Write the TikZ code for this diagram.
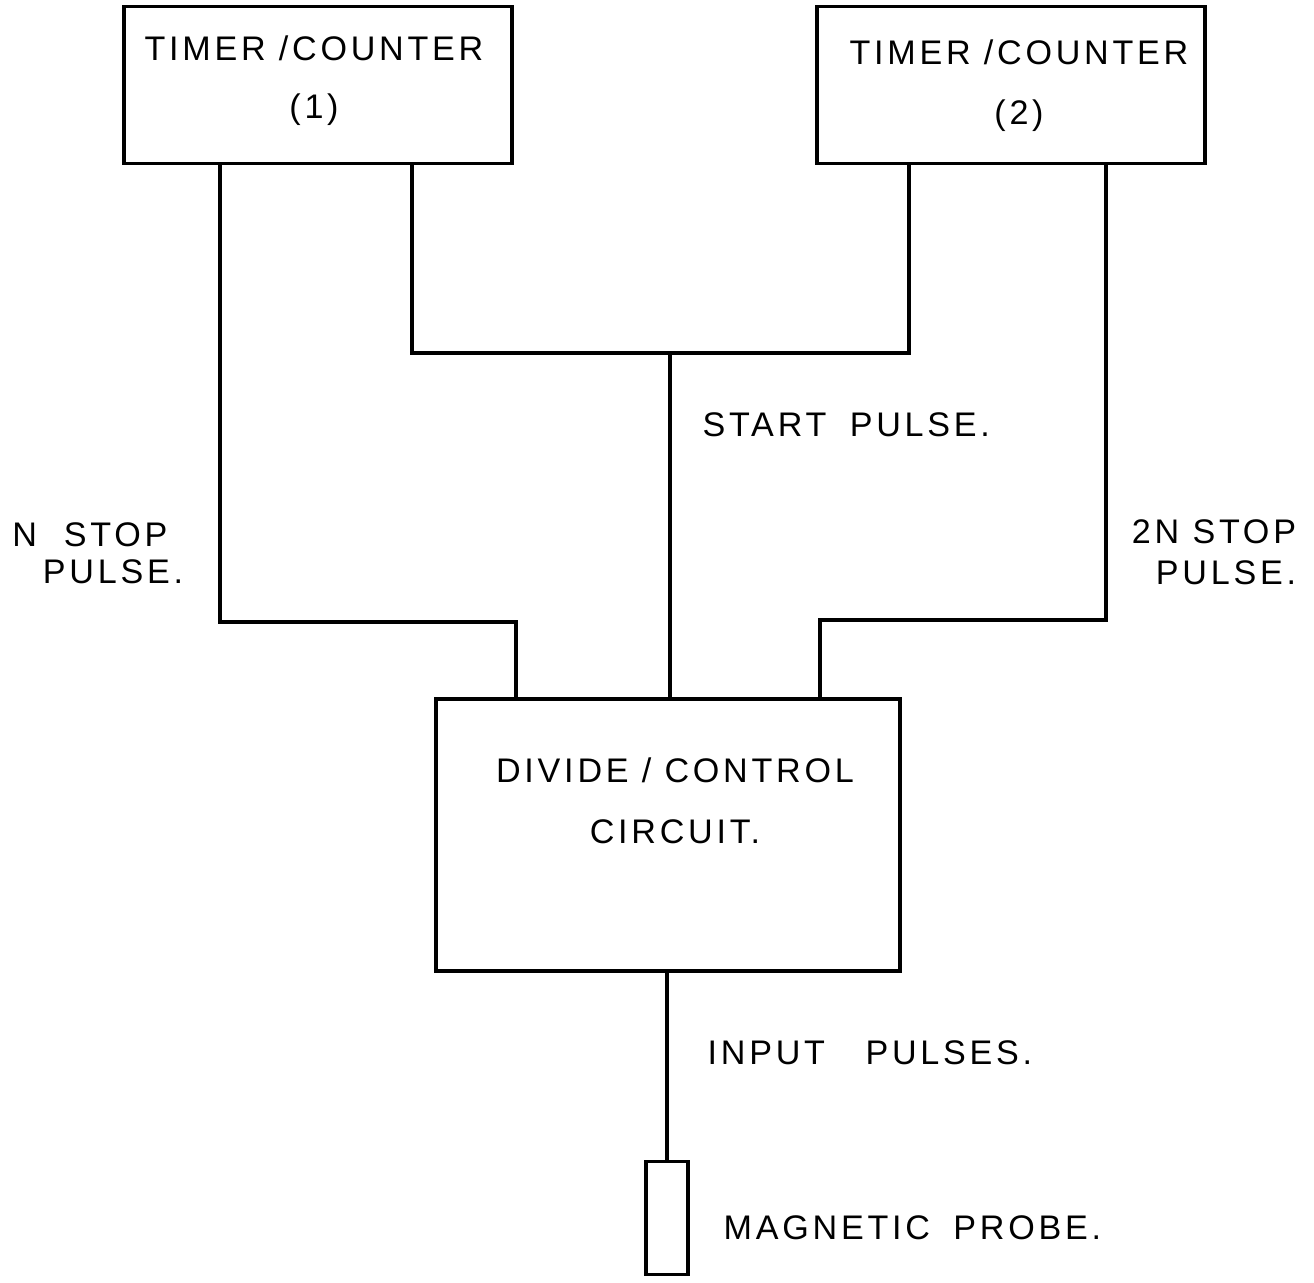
\documentclass[tikz,border=0pt]{standalone}
\usepackage{fontspec}
\setmainfont{Liberation Sans}[LetterSpace=11]
\usetikzlibrary{positioning}

\begin{document}
\begin{tikzpicture}[x=0.01cm, y=-0.01cm,
  unit/.style={draw, line width=1.1pt, inner sep=0pt},
  txt/.style={font=\fontsize{9.7}{11}\selectfont, align=center, inner sep=0pt},
  wire/.style={line width=1.1pt}]
\useasboundingbox (0,0) rectangle (1314,1283);
% blocks
\node[unit, minimum width=3.87cm, minimum height=1.57cm] (t1) at (318,85) {};
\node[unit, minimum width=3.87cm, minimum height=1.57cm] (t2) at (1011,85) {};
\node[unit, minimum width=4.63cm, minimum height=2.71cm] (dc) at (668,835) {};
\node[unit, minimum width=0.42cm, minimum height=1.13cm] (probe) at (667,1218) {};
% block texts
\node[txt] (t1a) at (314,48) {TIMER /COUNTER};
\node[txt, below=0.62cm of t1a.center, anchor=center] (t1b) {(1)};
\node[txt] (t2a) at (1019,52) {TIMER /COUNTER};
\node[txt, below=0.64cm of t2a.center, anchor=center] (t2b) {(2)};
\node[txt] (dca) at (675,770) {DIVIDE / CONTROL};
\node[txt, below=0.62cm of dca.center, anchor=center] (dcb) {CIRCUIT.};
% wiring
\coordinate (nbend) at (220,622);  \coordinate (ndrop) at (516,622);
\coordinate (sl) at (412,353);     \coordinate (sr) at (909,353);
\coordinate (sj) at (670,353);
\coordinate (mbend) at (1106,620); \coordinate (mdrop) at (820,620);
\draw[wire] (t1.south -| nbend) -- (nbend) -- (ndrop) -- (dc.north -| ndrop);
\draw[wire] (t1.south -| sl) -- (sl) -- (sr) -- (t2.south -| sr);
\draw[wire] (sj) -- (dc.north -| sj);
\draw[wire] (t2.south -| mbend) -- (mbend) -- (mdrop) -- (dc.north -| mdrop);
\draw[wire] (dc.south -| probe.north) -- (probe.north);
% signal labels
\node[txt] (nstop) at (90,535) {N\hspace{0.4em} STOP};
\node[txt] (npulse) at (113,572) {PULSE.};
\node[txt] (mstop) at (1214,532) {2N STOP};
\node[txt] (mpulse) at (1226,573) {PULSE.};
\node[txt, anchor=west] (start) at (702,425) {START\hspace{0.3em} PULSE.};
\node[txt, anchor=west] (input) at (707,1053) {INPUT\hspace{0.8em} PULSES.};
\node[txt, anchor=west] (mag) at (723,1228) {MAGNETIC\hspace{0.3em} PROBE.};
\end{tikzpicture}
\end{document}
